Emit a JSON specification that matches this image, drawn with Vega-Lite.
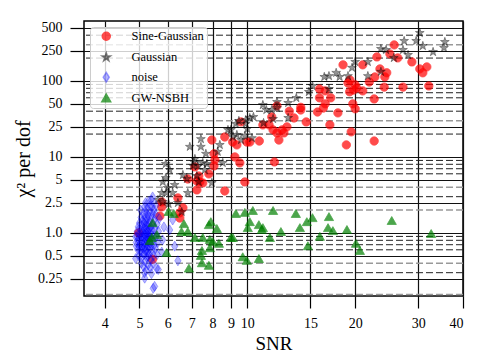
{
"$schema": "https://vega.github.io/schema/vega-lite/v6.json",
"width": 379, "height": 275,
"autosize": {"type": "none"},
"padding": {"left": 84, "top": 21, "right": 21, "bottom": 67},
"background": "white",
"config": {
  "font": "Liberation Serif",
  "view": {"stroke": "black", "strokeWidth": 1.5},
  "axis": {"labelFont": "Liberation Serif", "titleFont": "Liberation Serif", "labelColor": "black", "titleColor": "black", "titleFontWeight": "normal", "domain": false, "tickColor": "black", "gridColor": "#111111", "gridOpacity": 1}
},
"datasets": {
  "gb": [{"chi":0.3},{"chi":0.6},{"chi":0.7},{"chi":0.8},{"chi":0.9},{"chi":3},{"chi":6},{"chi":7},{"chi":8},{"chi":9},{"chi":20},{"chi":40},{"chi":60},{"chi":70},{"chi":80},{"chi":90},{"chi":200},{"chi":400}],
  "gg": [{"chi":0.155},{"chi":0.4},{"chi":2},{"chi":4},{"chi":30},{"chi":300}],
  "pts": [
{"type":"Sine-Gaussian","snr":18.5,"chi":163},{"type":"Sine-Gaussian","snr":21.0,"chi":163},{"type":"Sine-Gaussian","snr":23.0,"chi":207},{"type":"Sine-Gaussian","snr":25.7,"chi":298},{"type":"Sine-Gaussian","snr":25.0,"chi":227},{"type":"Sine-Gaussian","snr":26.3,"chi":201},{"type":"Sine-Gaussian","snr":28.8,"chi":178},{"type":"Sine-Gaussian","snr":30.3,"chi":144},{"type":"Sine-Gaussian","snr":30.9,"chi":128},{"type":"Sine-Gaussian","snr":31.7,"chi":153},{"type":"Sine-Gaussian","snr":32.1,"chi":86},{"type":"Sine-Gaussian","snr":27.2,"chi":83},{"type":"Sine-Gaussian","snr":24.1,"chi":83},{"type":"Sine-Gaussian","snr":22.7,"chi":113},{"type":"Sine-Gaussian","snr":23.45,"chi":144},{"type":"Sine-Gaussian","snr":24.5,"chi":128},{"type":"Sine-Gaussian","snr":24.2,"chi":113},{"type":"Sine-Gaussian","snr":21.9,"chi":97},{"type":"Sine-Gaussian","snr":21.0,"chi":74},{"type":"Sine-Gaussian","snr":22.6,"chi":58},{"type":"Sine-Gaussian","snr":19.1,"chi":94},{"type":"Sine-Gaussian","snr":19.34,"chi":103},{"type":"Sine-Gaussian","snr":20.0,"chi":89},{"type":"Sine-Gaussian","snr":19.3,"chi":72},{"type":"Sine-Gaussian","snr":20.2,"chi":81},{"type":"Sine-Gaussian","snr":19.8,"chi":76},{"type":"Sine-Gaussian","snr":19.7,"chi":50},{"type":"Sine-Gaussian","snr":20.0,"chi":43},{"type":"Sine-Gaussian","snr":19.5,"chi":21.4},{"type":"Sine-Gaussian","snr":18.9,"chi":14.4},{"type":"Sine-Gaussian","snr":22.6,"chi":16.2},{"type":"Sine-Gaussian","snr":15.9,"chi":78.5},{"type":"Sine-Gaussian","snr":16.5,"chi":74},{"type":"Sine-Gaussian","snr":15.9,"chi":60},{"type":"Sine-Gaussian","snr":17.1,"chi":60},{"type":"Sine-Gaussian","snr":16.5,"chi":50},{"type":"Sine-Gaussian","snr":16.3,"chi":44},{"type":"Sine-Gaussian","snr":15.7,"chi":39},{"type":"Sine-Gaussian","snr":17.9,"chi":38},{"type":"Sine-Gaussian","snr":17.0,"chi":26.4},{"type":"Sine-Gaussian","snr":14.1,"chi":45},{"type":"Sine-Gaussian","snr":14.1,"chi":41.5},{"type":"Sine-Gaussian","snr":13.1,"chi":40},{"type":"Sine-Gaussian","snr":12.1,"chi":47},{"type":"Sine-Gaussian","snr":11.7,"chi":33.6},{"type":"Sine-Gaussian","snr":13.5,"chi":32.6},{"type":"Sine-Gaussian","snr":14.6,"chi":28.9},{"type":"Sine-Gaussian","snr":12.9,"chi":24.9},{"type":"Sine-Gaussian","snr":12.5,"chi":22.7},{"type":"Sine-Gaussian","snr":12.65,"chi":20.7},{"type":"Sine-Gaussian","snr":12.25,"chi":16.7},{"type":"Sine-Gaussian","snr":11.8,"chi":22.7},{"type":"Sine-Gaussian","snr":12.1,"chi":20.7},{"type":"Sine-Gaussian","snr":11.05,"chi":26.4},{"type":"Sine-Gaussian","snr":11.5,"chi":26.4},{"type":"Sine-Gaussian","snr":10.8,"chi":16.2},{"type":"Sine-Gaussian","snr":10.16,"chi":15.7},{"type":"Sine-Gaussian","snr":9.97,"chi":15.7},{"type":"Sine-Gaussian","snr":9.6,"chi":28.9},{"type":"Sine-Gaussian","snr":9.1,"chi":15.7},{"type":"Sine-Gaussian","snr":9.35,"chi":14.4},{"type":"Sine-Gaussian","snr":9.23,"chi":10.0},{"type":"Sine-Gaussian","snr":9.53,"chi":8.35},{"type":"Sine-Gaussian","snr":11.9,"chi":8.6},{"type":"Sine-Gaussian","snr":9.84,"chi":4.69},{"type":"Sine-Gaussian","snr":7.96,"chi":16.7},{"type":"Sine-Gaussian","snr":8.65,"chi":18.3},{"type":"Sine-Gaussian","snr":8.07,"chi":11.0},{"type":"Sine-Gaussian","snr":8.12,"chi":9.14},{"type":"Sine-Gaussian","snr":8.07,"chi":7.62},{"type":"Sine-Gaussian","snr":7.81,"chi":5.98},{"type":"Sine-Gaussian","snr":7.32,"chi":5.62},{"type":"Sine-Gaussian","snr":7.14,"chi":7.39},{"type":"Sine-Gaussian","snr":6.82,"chi":5.13},{"type":"Sine-Gaussian","snr":7.23,"chi":4.83},{"type":"Sine-Gaussian","snr":7.37,"chi":4.69},{"type":"Sine-Gaussian","snr":7.23,"chi":3.68},{"type":"Sine-Gaussian","snr":8.65,"chi":3.57},{"type":"Sine-Gaussian","snr":6.40,"chi":2.89},{"type":"Sine-Gaussian","snr":5.77,"chi":2.56},{"type":"Sine-Gaussian","snr":5.77,"chi":2.20},{"type":"Sine-Gaussian","snr":5.70,"chi":1.67},{"type":"Sine-Gaussian","snr":6.61,"chi":2.14},{"type":"Sine-Gaussian","snr":6.48,"chi":1.84},{"type":"Sine-Gaussian","snr":6.48,"chi":1.57},{"type":"Sine-Gaussian","snr":7.51,"chi":4.55},{"type":"Sine-Gaussian","snr":4.97,"chi":1.0},{"type":"Sine-Gaussian","snr":5.44,"chi":0.45},
{"type":"Gaussian","snr":30.3,"chi":428},{"type":"Gaussian","snr":29.6,"chi":336},{"type":"Gaussian","snr":27.4,"chi":336},{"type":"Gaussian","snr":35.6,"chi":326},{"type":"Gaussian","snr":35.4,"chi":272},{"type":"Gaussian","snr":33.0,"chi":241},{"type":"Gaussian","snr":30.9,"chi":289},{"type":"Gaussian","snr":28.1,"chi":220},{"type":"Gaussian","snr":27.2,"chi":256},{"type":"Gaussian","snr":25.65,"chi":201},{"type":"Gaussian","snr":24.4,"chi":256},{"type":"Gaussian","snr":23.6,"chi":264},{"type":"Gaussian","snr":21.7,"chi":178},{"type":"Gaussian","snr":20.0,"chi":178},{"type":"Gaussian","snr":19.6,"chi":149},{"type":"Gaussian","snr":19.1,"chi":116},{"type":"Gaussian","snr":18.1,"chi":113},{"type":"Gaussian","snr":17.7,"chi":128},{"type":"Gaussian","snr":16.9,"chi":116},{"type":"Gaussian","snr":16.4,"chi":113},{"type":"Gaussian","snr":21.7,"chi":116},{"type":"Gaussian","snr":23.6,"chi":132},{"type":"Gaussian","snr":16.9,"chi":78.5},{"type":"Gaussian","snr":15.2,"chi":86},{"type":"Gaussian","snr":14.85,"chi":71.7},{"type":"Gaussian","snr":13.7,"chi":59.7},{"type":"Gaussian","snr":13.0,"chi":51.3},{"type":"Gaussian","snr":12.1,"chi":52.9},{"type":"Gaussian","snr":12.1,"chi":44.1},{"type":"Gaussian","snr":11.7,"chi":41.5},{"type":"Gaussian","snr":11.3,"chi":41.5},{"type":"Gaussian","snr":11.05,"chi":48.3},{"type":"Gaussian","snr":11.8,"chi":31.6},{"type":"Gaussian","snr":13.0,"chi":32.6},{"type":"Gaussian","snr":11.1,"chi":28.0},{"type":"Gaussian","snr":10.4,"chi":33.6},{"type":"Gaussian","snr":10.16,"chi":32.6},{"type":"Gaussian","snr":9.9,"chi":27.2},{"type":"Gaussian","snr":10.0,"chi":23.4},{"type":"Gaussian","snr":9.47,"chi":29.8},{"type":"Gaussian","snr":9.29,"chi":27.2},{"type":"Gaussian","snr":9.35,"chi":19.5},{"type":"Gaussian","snr":9.84,"chi":18.9},{"type":"Gaussian","snr":10.3,"chi":17.7},{"type":"Gaussian","snr":9.0,"chi":22.7},{"type":"Gaussian","snr":9.11,"chi":18.3},{"type":"Gaussian","snr":8.83,"chi":22.7},{"type":"Gaussian","snr":9.6,"chi":16.7},{"type":"Gaussian","snr":8.38,"chi":14.4},{"type":"Gaussian","snr":8.27,"chi":11.7},{"type":"Gaussian","snr":8.54,"chi":8.35},{"type":"Gaussian","snr":7.66,"chi":11.0},{"type":"Gaussian","snr":7.42,"chi":17.2},{"type":"Gaussian","snr":7.42,"chi":13.6},{"type":"Gaussian","snr":6.91,"chi":13.6},{"type":"Gaussian","snr":7.71,"chi":8.1},{"type":"Gaussian","snr":7.09,"chi":8.6},{"type":"Gaussian","snr":7.28,"chi":7.62},{"type":"Gaussian","snr":6.61,"chi":5.8},{"type":"Gaussian","snr":6.07,"chi":6.75},{"type":"Gaussian","snr":5.92,"chi":8.1},{"type":"Gaussian","snr":5.92,"chi":5.29},{"type":"Gaussian","snr":9.9,"chi":30.7},{"type":"Gaussian","snr":7.14,"chi":9.42},{"type":"Gaussian","snr":7.05,"chi":7.62},{"type":"Gaussian","snr":7.51,"chi":8.35},{"type":"Gaussian","snr":7.61,"chi":6.75},{"type":"Gaussian","snr":6.78,"chi":5.13},{"type":"Gaussian","snr":7.23,"chi":5.62},{"type":"Gaussian","snr":7.32,"chi":4.69},{"type":"Gaussian","snr":7.96,"chi":4.55},{"type":"Gaussian","snr":6.27,"chi":4.28},{"type":"Gaussian","snr":5.81,"chi":4.69},{"type":"Gaussian","snr":5.99,"chi":3.91},{"type":"Gaussian","snr":5.95,"chi":3.36},{"type":"Gaussian","snr":5.77,"chi":3.36},{"type":"Gaussian","snr":6.19,"chi":3.36},{"type":"Gaussian","snr":6.82,"chi":3.36},{"type":"Gaussian","snr":6.03,"chi":2.41},{"type":"Gaussian","snr":6.40,"chi":2.48},{"type":"Gaussian","snr":5.81,"chi":2.56},{"type":"Gaussian","snr":6.56,"chi":1.89},{"type":"Gaussian","snr":5.63,"chi":2.72},
{"type":"noise","snr":4.9,"chi":0.75},{"type":"noise","snr":4.92,"chi":0.9},{"type":"noise","snr":4.95,"chi":0.6},{"type":"noise","snr":4.93,"chi":1.05},{"type":"noise","snr":4.97,"chi":0.82},{"type":"noise","snr":4.98,"chi":0.5},{"type":"noise","snr":4.96,"chi":1.2},{"type":"noise","snr":4.99,"chi":0.68},{"type":"noise","snr":5.0,"chi":0.95},{"type":"noise","snr":5.0,"chi":1.35},{"type":"noise","snr":5.02,"chi":0.72},{"type":"noise","snr":5.03,"chi":0.58},{"type":"noise","snr":5.04,"chi":1.1},{"type":"noise","snr":5.05,"chi":0.85},{"type":"noise","snr":5.05,"chi":1.6},{"type":"noise","snr":5.06,"chi":0.47},{"type":"noise","snr":5.07,"chi":0.99},{"type":"noise","snr":5.08,"chi":1.25},{"type":"noise","snr":5.08,"chi":0.64},{"type":"noise","snr":5.09,"chi":0.78},{"type":"noise","snr":5.1,"chi":1.45},{"type":"noise","snr":5.1,"chi":0.9},{"type":"noise","snr":5.1,"chi":0.55},{"type":"noise","snr":5.04,"chi":2.0},{"type":"noise","snr":5.06,"chi":0.4},{"type":"noise","snr":5.11,"chi":1.05},{"type":"noise","snr":5.12,"chi":0.7},{"type":"noise","snr":5.12,"chi":1.8},{"type":"noise","snr":5.13,"chi":0.62},{"type":"noise","snr":5.14,"chi":1.15},{"type":"noise","snr":5.14,"chi":0.88},{"type":"noise","snr":5.15,"chi":0.52},{"type":"noise","snr":5.15,"chi":1.35},{"type":"noise","snr":5.16,"chi":0.75},{"type":"noise","snr":5.17,"chi":2.2},{"type":"noise","snr":5.17,"chi":0.95},{"type":"noise","snr":5.18,"chi":1.6},{"type":"noise","snr":5.18,"chi":0.66},{"type":"noise","snr":5.19,"chi":0.42},{"type":"noise","snr":5.19,"chi":1.2},{"type":"noise","snr":5.2,"chi":0.82},{"type":"noise","snr":5.2,"chi":1.0},{"type":"noise","snr":5.2,"chi":2.5},{"type":"noise","snr":5.13,"chi":0.36},{"type":"noise","snr":5.16,"chi":0.3},{"type":"noise","snr":5.21,"chi":1.4},{"type":"noise","snr":5.21,"chi":0.58},{"type":"noise","snr":5.22,"chi":0.72},{"type":"noise","snr":5.22,"chi":1.85},{"type":"noise","snr":5.23,"chi":0.9},{"type":"noise","snr":5.23,"chi":1.1},{"type":"noise","snr":5.24,"chi":0.48},{"type":"noise","snr":5.24,"chi":0.65},{"type":"noise","snr":5.25,"chi":1.25},{"type":"noise","snr":5.25,"chi":2.1},{"type":"noise","snr":5.26,"chi":0.78},{"type":"noise","snr":5.26,"chi":1.55},{"type":"noise","snr":5.27,"chi":0.95},{"type":"noise","snr":5.27,"chi":0.56},{"type":"noise","snr":5.28,"chi":1.05},{"type":"noise","snr":5.28,"chi":0.38},{"type":"noise","snr":5.29,"chi":0.85},{"type":"noise","snr":5.29,"chi":1.7},{"type":"noise","snr":5.3,"chi":0.68},{"type":"noise","snr":5.3,"chi":1.3},{"type":"noise","snr":5.3,"chi":2.6},{"type":"noise","snr":5.22,"chi":0.32},{"type":"noise","snr":5.31,"chi":0.92},{"type":"noise","snr":5.32,"chi":1.15},{"type":"noise","snr":5.32,"chi":0.52},{"type":"noise","snr":5.33,"chi":1.9},{"type":"noise","snr":5.33,"chi":0.75},{"type":"noise","snr":5.34,"chi":1.4},{"type":"noise","snr":5.35,"chi":0.62},{"type":"noise","snr":5.35,"chi":1.02},{"type":"noise","snr":5.36,"chi":2.3},{"type":"noise","snr":5.37,"chi":0.84},{"type":"noise","snr":5.37,"chi":0.45},{"type":"noise","snr":5.38,"chi":1.2},{"type":"noise","snr":5.39,"chi":0.7},{"type":"noise","snr":5.39,"chi":1.6},{"type":"noise","snr":5.4,"chi":0.95},{"type":"noise","snr":5.4,"chi":2.7},{"type":"noise","snr":5.36,"chi":0.35},{"type":"noise","snr":5.4,"chi":0.29},{"type":"noise","snr":5.42,"chi":1.1},{"type":"noise","snr":5.43,"chi":0.6},{"type":"noise","snr":5.44,"chi":1.8},{"type":"noise","snr":5.45,"chi":0.8},{"type":"noise","snr":5.46,"chi":1.3},{"type":"noise","snr":5.47,"chi":0.5},{"type":"noise","snr":5.48,"chi":2.0},{"type":"noise","snr":5.49,"chi":0.9},{"type":"noise","snr":5.5,"chi":1.5},{"type":"noise","snr":5.45,"chi":0.4},{"type":"noise","snr":5.5,"chi":0.7},{"type":"noise","snr":5.52,"chi":1.15},{"type":"noise","snr":5.54,"chi":0.62},{"type":"noise","snr":5.55,"chi":1.75},{"type":"noise","snr":5.57,"chi":0.9},{"type":"noise","snr":5.6,"chi":1.3},{"type":"noise","snr":5.62,"chi":0.75},{"type":"noise","snr":5.65,"chi":1.05},{"type":"noise","snr":5.68,"chi":1.55},{"type":"noise","snr":5.55,"chi":2.3},{"type":"noise","snr":5.6,"chi":0.52},{"type":"noise","snr":5.44,"chi":2.98},{"type":"noise","snr":5.43,"chi":2.25},{"type":"noise","snr":6.19,"chi":1.48},{"type":"noise","snr":5.85,"chi":1.2},{"type":"noise","snr":6.07,"chi":1.095},{"type":"noise","snr":6.27,"chi":0.67},{"type":"noise","snr":6.40,"chi":0.43},{"type":"noise","snr":5.80,"chi":0.81},{"type":"noise","snr":5.17,"chi":0.254},{"type":"noise","snr":5.46,"chi":0.187},{"type":"noise","snr":5.51,"chi":0.198},{"type":"noise","snr":5.58,"chi":0.34},{"type":"noise","snr":5.64,"chi":0.33},{"type":"noise","snr":4.88,"chi":0.46},{"type":"noise","snr":4.88,"chi":0.89},{"type":"noise","snr":4.90,"chi":0.67},{"type":"noise","snr":5.28,"chi":0.50},{"type":"noise","snr":5.77,"chi":0.56},
{"type":"GW-NSBH","snr":5.44,"chi":1.35},{"type":"GW-NSBH","snr":5.59,"chi":0.94},{"type":"GW-NSBH","snr":5.34,"chi":0.785},{"type":"GW-NSBH","snr":5.41,"chi":0.86},{"type":"GW-NSBH","snr":5.95,"chi":0.545},{"type":"GW-NSBH","snr":6.03,"chi":1.89},{"type":"GW-NSBH","snr":6.23,"chi":1.78},{"type":"GW-NSBH","snr":6.65,"chi":1.31},{"type":"GW-NSBH","snr":6.55,"chi":1.03},{"type":"GW-NSBH","snr":6.82,"chi":1.03},{"type":"GW-NSBH","snr":7.14,"chi":0.86},{"type":"GW-NSBH","snr":7.51,"chi":0.86},{"type":"GW-NSBH","snr":7.91,"chi":1.39},{"type":"GW-NSBH","snr":7.81,"chi":1.27},{"type":"GW-NSBH","snr":8.22,"chi":1.13},{"type":"GW-NSBH","snr":7.86,"chi":0.81},{"type":"GW-NSBH","snr":8.01,"chi":0.76},{"type":"GW-NSBH","snr":8.33,"chi":0.72},{"type":"GW-NSBH","snr":7.86,"chi":0.63},{"type":"GW-NSBH","snr":7.47,"chi":0.58},{"type":"GW-NSBH","snr":7.42,"chi":0.50},{"type":"GW-NSBH","snr":7.47,"chi":0.40},{"type":"GW-NSBH","snr":7.81,"chi":0.37},{"type":"GW-NSBH","snr":6.87,"chi":0.34},{"type":"GW-NSBH","snr":9.0,"chi":0.86},{"type":"GW-NSBH","snr":9.11,"chi":0.86},{"type":"GW-NSBH","snr":9.29,"chi":1.78},{"type":"GW-NSBH","snr":9.84,"chi":1.84},{"type":"GW-NSBH","snr":10.36,"chi":1.95},{"type":"GW-NSBH","snr":10.16,"chi":1.39},{"type":"GW-NSBH","snr":10.03,"chi":1.16},{"type":"GW-NSBH","snr":10.77,"chi":1.27},{"type":"GW-NSBH","snr":11.05,"chi":1.16},{"type":"GW-NSBH","snr":10.98,"chi":1.095},{"type":"GW-NSBH","snr":11.8,"chi":1.95},{"type":"GW-NSBH","snr":11.56,"chi":0.86},{"type":"GW-NSBH","snr":12.41,"chi":1.03},{"type":"GW-NSBH","snr":13.66,"chi":1.78},{"type":"GW-NSBH","snr":14.02,"chi":1.16},{"type":"GW-NSBH","snr":14.66,"chi":1.39},{"type":"GW-NSBH","snr":15.2,"chi":1.57},{"type":"GW-NSBH","snr":14.76,"chi":0.67},{"type":"GW-NSBH","snr":15.94,"chi":0.89},{"type":"GW-NSBH","snr":16.9,"chi":1.62},{"type":"GW-NSBH","snr":16.8,"chi":1.16},{"type":"GW-NSBH","snr":17.33,"chi":1.06},{"type":"GW-NSBH","snr":18.97,"chi":1.095},{"type":"GW-NSBH","snr":20.1,"chi":0.72},{"type":"GW-NSBH","snr":20.62,"chi":0.58},{"type":"GW-NSBH","snr":25.3,"chi":1.44},{"type":"GW-NSBH","snr":32.6,"chi":0.97},{"type":"GW-NSBH","snr":9.71,"chi":0.48},{"type":"GW-NSBH","snr":9.97,"chi":0.43},{"type":"GW-NSBH","snr":10.77,"chi":0.455}
  ]
},
"encoding": {
  "y": {"field": "chi", "type": "quantitative",
    "scale": {"type": "log", "domain": [0.148, 615], "nice": false},
    "axis": {"title": "χ² per dof", "values": [0.25,0.5,1,2.5,5,10,25,50,100,250,500], "format": "~g",
      "labelExpr": "datum.value == 1 ? '1.0' : datum.label",
      "labelFontSize": 14, "tickSize": 14, "tickWidth": 1.2, "labelPadding": 8,
      "grid": true, "gridWidth": 1.2, "titleFontSize": 20, "titlePadding": 4}},
  "x": {"field": "snr", "type": "quantitative",
    "scale": {"type": "log", "domain": [3.5, 40], "nice": false},
    "axis": {"orient": "bottom", "title": "SNR", "values": [4,5,6,7,8,9,10,15,20,30,40], "format": "~g",
      "labelFontSize": 14, "tickSize": 12, "tickWidth": 1.2, "labelPadding": 8,
      "grid": true, "gridWidth": 1.2, "titleFontSize": 19, "titlePadding": 4}}
},
"layer": [
  {"data": {"name": "gb"}, "mark": {"type": "rule", "color": "#222222", "strokeWidth": 1, "strokeDash": [7, 3]}, "encoding": {"x": null}},
  {"data": {"name": "gg"}, "mark": {"type": "rule", "color": "#999999", "strokeWidth": 1.6, "strokeDash": [7, 3]}, "encoding": {"x": null}},
  {"data": {"name": "pts"},
   "mark": {"type": "point", "filled": true, "size": 70, "strokeWidth": 0.8},
   "encoding": {
     "color": {"field": "type", "type": "nominal",
       "scale": {"domain": ["Sine-Gaussian","Gaussian","noise","GW-NSBH"], "range": ["#ff0000","rgba(0,0,0,0.6)","rgba(0,0,255,0.4)","#008000"]},
       "legend": {"title": null, "orient": "none", "legendX": 6, "legendY": 6, "padding": 3,
         "fillColor": "rgba(255,255,255,0.8)", "strokeColor": "#cccccc", "cornerRadius": 3,
         "labelFont": "Liberation Serif", "labelFontSize": 12.5, "labelColor": "black",
         "symbolSize": 64, "rowPadding": 5, "symbolOffset": 7, "labelOffset": 19}},
     "stroke": {"field": "type", "type": "nominal",
       "scale": {"domain": ["Sine-Gaussian","Gaussian","noise","GW-NSBH"], "range": ["#ff0000","rgba(0,0,0,0.7)","rgba(0,0,255,0.55)","#008000"]}},
     "shape": {"field": "type", "type": "nominal",
       "scale": {"domain": ["Sine-Gaussian","Gaussian","noise","GW-NSBH"], "range": ["circle","M0,-1.1L0.248,-0.34L1.046,-0.34L0.4,0.13L0.647,0.89L0,0.42L-0.647,0.89L-0.4,0.13L-1.046,-0.34L-0.248,-0.34Z","M0,-1.2L0.75,0L0,1.2L-0.75,0Z","M0,-1.05L1.1,0.85L-1.1,0.85Z"]}}
   }}
]
}
